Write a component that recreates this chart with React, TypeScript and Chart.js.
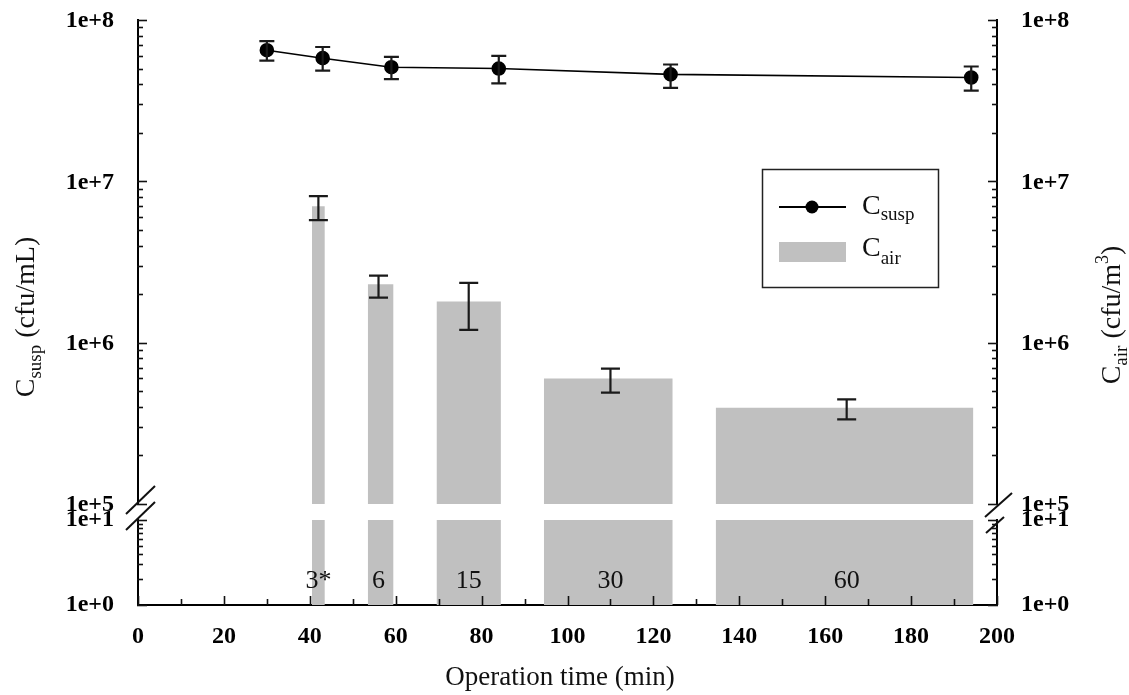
import { useEffect, useRef } from "react";
import { Chart, registerables } from "chart.js";

Chart.register(...registerables);

// ---- Data ----
// C_susp line (cfu/mL) with error bars
const suspTimes = [30, 43, 59, 84, 124, 194];
const suspValues = [6.5e7, 5.8e7, 5.1e7, 5.0e7, 4.6e7, 4.4e7];
const suspHigh = [7.4e7, 6.8e7, 5.9e7, 6.0e7, 5.3e7, 5.15e7];
const suspLow = [5.6e7, 4.85e7, 4.3e7, 4.05e7, 3.8e7, 3.65e7];

// C_air bars (cfu/m3): sampling intervals
const airStart = [40.5, 53.5, 69.5, 94.5, 134.5];
const airEnd = [43.5, 59.5, 84.5, 124.5, 194.5];
const airValues = [7.0e6, 2.3e6, 1.8e6, 6.0e5, 3.95e5];
const airErrTimes = [42, 56, 77, 110, 165];
const airHigh = [8.1e6, 2.6e6, 2.35e6, 6.9e5, 4.45e5];
const airLow = [5.75e6, 1.9e6, 1.2e6, 4.9e5, 3.35e5];
const durationLabels = ["3*", "6", "15", "30", "60"];

// Axes
const xMajorTicks = [0, 20, 40, 60, 80, 100, 120, 140, 160, 180, 200];
const xMinorTicks = [10, 30, 50, 70, 90, 110, 130, 150, 170, 190];
const upperDecades = [1e5, 1e6, 1e7, 1e8];
const upperDecadeLabels = ["1e+5", "1e+6", "1e+7", "1e+8"];
const lowerDecades = [1, 10];
const lowerDecadeLabels = ["1e+0", "1e+1"];
const lowerBarTop = 10;
const logMultipliers = [1, 2, 3, 4, 5, 6, 7, 8, 9];

const SERIF = "'Liberation Serif', 'Times New Roman', serif";
const BAR_COLOR = "#c0c0c0";

function logTicks(decades: number[]) {
  const out: any[] = [];
  for (let i = 0; i < decades.length - 1; i++) {
    for (const m of logMultipliers) out.push({ value: decades[i] * m, major: m === 1 });
  }
  out.push({ value: decades[decades.length - 1], major: true });
  return out;
}

function labelFor(decades: number[], labels: string[]) {
  return (v: any) => {
    const idx = decades.findIndex((d) => Math.abs(d - Number(v)) / d < 1e-9);
    return idx >= 0 ? labels[idx] : "";
  };
}

function drawRich(ctx: CanvasRenderingContext2D, parts: any[], cx: number, cy: number, angle: number, align: string) {
  ctx.save();
  ctx.translate(cx, cy);
  ctx.rotate(angle);
  ctx.textAlign = "left";
  ctx.textBaseline = "alphabetic";
  const widths = parts.map((p) => {
    ctx.font = `${p.size}px ${SERIF}`;
    return ctx.measureText(p.text).width;
  });
  const total = widths.reduce((a, b) => a + b, 0);
  let x = align === "center" ? -total / 2 : 0;
  parts.forEach((p, i) => {
    ctx.font = `${p.size}px ${SERIF}`;
    ctx.fillText(p.text, x, p.dy || 0);
    x += widths[i];
  });
  ctx.restore();
}

function drawErr(ctx: CanvasRenderingContext2D, px: number, yHi: number, yLo: number, half: number) {
  ctx.beginPath();
  ctx.moveTo(px, yHi);
  ctx.lineTo(px, yLo);
  ctx.moveTo(px - half, yHi);
  ctx.lineTo(px + half, yHi);
  ctx.moveTo(px - half, yLo);
  ctx.lineTo(px + half, yLo);
  ctx.stroke();
}

const decorPlugin = {
  id: "decor",
  afterDatasetsDraw(chart: any) {
    const ctx: CanvasRenderingContext2D = chart.ctx;
    const x = chart.scales.x;
    const yU = chart.scales.yU;
    const yL = chart.scales.yL;
    ctx.save();
    ctx.strokeStyle = "#1a1a1a";
    ctx.lineWidth = 2.2;
    suspTimes.forEach((t, i) =>
      drawErr(ctx, x.getPixelForValue(t), yU.getPixelForValue(suspHigh[i]), yU.getPixelForValue(suspLow[i]), 7.5)
    );
    airErrTimes.forEach((t, i) =>
      drawErr(ctx, x.getPixelForValue(t), yU.getPixelForValue(airHigh[i]), yU.getPixelForValue(airLow[i]), 9.5)
    );
    ctx.fillStyle = "#111";
    ctx.font = `26px ${SERIF}`;
    ctx.textAlign = "center";
    ctx.textBaseline = "alphabetic";
    durationLabels.forEach((l, i) => {
      ctx.fillText(l, x.getPixelForValue(airErrTimes[i]), yL.getPixelForValue(1.58));
    });
    ctx.restore();
  },
  afterDraw(chart: any) {
    const ctx: CanvasRenderingContext2D = chart.ctx;
    const s = chart.scales;
    ctx.save();
    ctx.strokeStyle = "#111";
    ctx.lineWidth = 1.6;
    // inward tick marks on y axes
    const yTicks = (scale: any, side: string) => {
      for (const t of scale.ticks) {
        const py = Math.round(scale.getPixelForValue(t.value)) + 0.5;
        const len = t.major ? 10 : 6;
        ctx.beginPath();
        if (side === "left") {
          ctx.moveTo(scale.right - 1, py);
          ctx.lineTo(scale.right - 1 + len, py);
        } else {
          ctx.moveTo(scale.left + 1, py);
          ctx.lineTo(scale.left + 1 - len, py);
        }
        ctx.stroke();
      }
    };
    yTicks(s.yU, "left");
    yTicks(s.yL, "left");
    yTicks(s.yRU, "right");
    yTicks(s.yRL, "right");
    // inward ticks on x axis
    const xs = s.x;
    const xTick = (v: number, len: number) => {
      const px = Math.round(xs.getPixelForValue(v)) + 0.5;
      ctx.beginPath();
      ctx.moveTo(px, xs.top);
      ctx.lineTo(px, xs.top - len);
      ctx.stroke();
    };
    xMajorTicks.forEach((v) => xTick(v, 9));
    xMinorTicks.forEach((v) => xTick(v, 6));

    // axis break marks
    ctx.lineWidth = 2;
    ctx.strokeStyle = "#111";
    const ybU = s.yU.bottom;
    const ybL = s.yL.top;
    const lx = s.yU.right - 1;
    const rx = s.yRU.left + 1;
    const slash = (x1: number, y1: number, x2: number, y2: number) => {
      ctx.beginPath();
      ctx.moveTo(x1, y1);
      ctx.lineTo(x2, y2);
      ctx.stroke();
    };
    slash(lx - 11, ybU + 10, lx + 18, ybU - 18);
    slash(lx - 11, ybL + 10, lx + 18, ybL - 18);
    slash(rx - 13, ybU + 13, rx + 14, ybU - 11);
    slash(rx - 12, ybL + 13, rx + 6, ybL - 3);

    // axis titles
    ctx.fillStyle = "#111";
    drawRich(
      ctx,
      [
        { text: "C", size: 28 },
        { text: "susp", size: 19, dy: 7 },
        { text: " (cfu/mL)", size: 28 },
      ],
      34,
      317,
      -Math.PI / 2,
      "center"
    );
    drawRich(
      ctx,
      [
        { text: "C", size: 28 },
        { text: "air", size: 19, dy: 7 },
        { text: " (cfu/m", size: 28 },
        { text: "3", size: 18, dy: -12 },
        { text: ")", size: 28 },
      ],
      1120,
      315,
      -Math.PI / 2,
      "center"
    );
    drawRich(ctx, [{ text: "Operation time (min)", size: 27 }], 560, 685, 0, "center");

    // legend
    const lgX = 762, lgY = 169, lgW = 176, lgH = 118;
    ctx.fillStyle = "#fff";
    ctx.fillRect(lgX, lgY, lgW, lgH);
    ctx.lineWidth = 1.5;
    ctx.strokeStyle = "#222";
    ctx.strokeRect(lgX + 0.5, lgY + 0.5, lgW, lgH);
    ctx.lineWidth = 2;
    ctx.strokeStyle = "#000";
    ctx.beginPath();
    ctx.moveTo(779, 207);
    ctx.lineTo(846, 207);
    ctx.stroke();
    ctx.fillStyle = "#000";
    ctx.beginPath();
    ctx.arc(812, 207, 6.5, 0, Math.PI * 2);
    ctx.fill();
    ctx.fillStyle = BAR_COLOR;
    ctx.fillRect(779, 242, 67, 20);
    ctx.fillStyle = "#111";
    drawRich(ctx, [{ text: "C", size: 28 }, { text: "susp", size: 19, dy: 6 }], 862, 214, 0, "left");
    drawRich(ctx, [{ text: "C", size: 28 }, { text: "air", size: 19, dy: 8 }], 862, 256, 0, "left");
    ctx.restore();
  },
};

export default function App() {
  const ref = useRef<HTMLCanvasElement>(null);

  useEffect(() => {
    document.body.style.margin = "0";
    const canvas = ref.current;
    if (!canvas) return;
    Chart.defaults.font.family = SERIF;
    Chart.defaults.color = "#000";

    const tickFont = { family: SERIF, size: 24, weight: "bold" as const };
    const leftW = (sc: any) => {
      sc.width = 138;
      sc.paddingTop = 0;
      sc.paddingBottom = 0;
    };
    const rightW = (sc: any) => {
      sc.width = 132;
      sc.paddingTop = 0;
      sc.paddingBottom = 0;
    };
    const noGrid = { display: false };
    const axisBorder = { display: true, color: "#000", width: 2 };

    const upperTicksBuilder = (sc: any) => {
      sc.ticks = logTicks(upperDecades);
    };
    const lowerTicksBuilder = (sc: any) => {
      sc.ticks = logTicks(lowerDecades);
    };

    const datasets: any[] = [
      {
        label: "Csusp",
        data: suspTimes.map((t, i) => ({ x: t, y: suspValues[i] })),
        xAxisID: "x",
        yAxisID: "yU",
        borderColor: "#000",
        borderWidth: 1.6,
        pointRadius: 6.5,
        pointBackgroundColor: "#000",
        pointBorderColor: "#000",
        fill: false,
        tension: 0,
      },
    ];
    airStart.forEach((st, i) => {
      datasets.push({
        label: "Cair",
        data: [
          { x: st, y: airValues[i] },
          { x: airEnd[i], y: airValues[i] },
        ],
        xAxisID: "x",
        yAxisID: "yU",
        borderColor: "rgba(0,0,0,0)",
        borderWidth: 1,
        backgroundColor: BAR_COLOR,
        pointRadius: 0,
        fill: "start",
      });
      datasets.push({
        label: "Cair-low",
        data: [
          { x: st, y: lowerBarTop },
          { x: airEnd[i], y: lowerBarTop },
        ],
        xAxisID: "x",
        yAxisID: "yL",
        borderColor: "rgba(0,0,0,0)",
        borderWidth: 1,
        backgroundColor: BAR_COLOR,
        pointRadius: 0,
        fill: "start",
      });
    });

    const chart = new Chart(canvas, {
      type: "line",
      data: { datasets },
      options: {
        animation: false,
        responsive: false,
        devicePixelRatio: 1,
        events: [],
        layout: { padding: { top: 20, left: 0, right: 0, bottom: 0 } },
        plugins: {
          legend: { display: false },
          tooltip: { enabled: false },
          title: { display: false },
        },
        scales: {
          x: {
            type: "linear",
            position: "bottom",
            min: 0,
            max: 200,
            afterBuildTicks: (sc: any) => {
              sc.ticks = xMajorTicks.map((v) => ({ value: v }));
            },
            afterFit: (sc: any) => {
              sc.height = 90;
            },
            ticks: {
              font: tickFont,
              color: "#000",
              padding: 9,
              autoSkip: false,
              maxRotation: 0,
              callback: (v: any) => String(v),
            },
            grid: noGrid,
            border: axisBorder,
          },
          yU: {
            type: "logarithmic",
            position: "left",
            stack: "left",
            stackWeight: 484,
            weight: 3,
            min: 1e5,
            max: 1e8,
            afterBuildTicks: upperTicksBuilder,
            afterFit: leftW,
            ticks: {
              font: tickFont,
              color: "#000",
              padding: 16,
              labelOffset: 1,
              autoSkip: false,
              callback: labelFor(upperDecades, upperDecadeLabels),
            },
            grid: noGrid,
            border: axisBorder,
          },
          yG: {
            type: "linear",
            position: "left",
            stack: "left",
            stackWeight: 16,
            weight: 2,
            min: 0,
            max: 1,
            afterFit: leftW,
            ticks: { display: false },
            grid: noGrid,
            border: { display: false },
          },
          yL: {
            type: "logarithmic",
            position: "left",
            stack: "left",
            stackWeight: 85,
            weight: 1,
            min: 1,
            max: 10,
            afterBuildTicks: lowerTicksBuilder,
            afterFit: leftW,
            ticks: {
              font: tickFont,
              color: "#000",
              padding: 16,
              labelOffset: 0,
              autoSkip: false,
              callback: labelFor(lowerDecades, lowerDecadeLabels),
            },
            grid: noGrid,
            border: axisBorder,
          },
          yRU: {
            type: "logarithmic",
            position: "right",
            stack: "right",
            stackWeight: 484,
            weight: 1,
            min: 1e5,
            max: 1e8,
            afterBuildTicks: upperTicksBuilder,
            afterFit: rightW,
            ticks: {
              font: tickFont,
              color: "#000",
              padding: 16,
              labelOffset: 1,
              autoSkip: false,
              callback: labelFor(upperDecades, upperDecadeLabels),
            },
            grid: noGrid,
            border: axisBorder,
          },
          yRG: {
            type: "linear",
            position: "right",
            stack: "right",
            stackWeight: 16,
            weight: 2,
            min: 0,
            max: 1,
            afterFit: rightW,
            ticks: { display: false },
            grid: noGrid,
            border: { display: false },
          },
          yRL: {
            type: "logarithmic",
            position: "right",
            stack: "right",
            stackWeight: 85,
            weight: 3,
            min: 1,
            max: 10,
            afterBuildTicks: lowerTicksBuilder,
            afterFit: rightW,
            ticks: {
              font: tickFont,
              color: "#000",
              padding: 16,
              labelOffset: 0,
              autoSkip: false,
              callback: labelFor(lowerDecades, lowerDecadeLabels),
            },
            grid: noGrid,
            border: axisBorder,
          },
        },
      } as any,
      plugins: [decorPlugin],
    });

    return () => {
      chart.destroy();
    };
  }, []);

  return (
    <div style={{ position: "absolute", left: 0, top: 0, width: 1129, height: 695, background: "#fff" }}>
      <canvas ref={ref} width={1129} height={695} style={{ display: "block" }} />
    </div>
  );
}
